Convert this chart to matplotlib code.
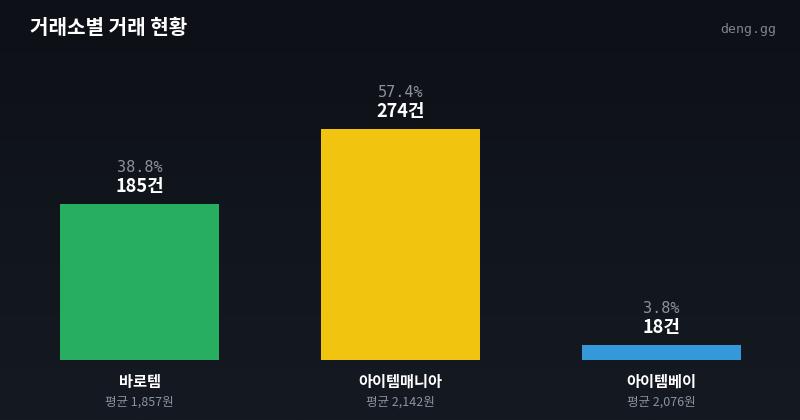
import matplotlib.pyplot as plt
import numpy as np
from matplotlib.colors import LinearSegmentedColormap

exchanges = ["바로템", "아이템매니아", "아이템베이"]
counts = [185, 274, 18]
shares = [38.8, 57.4, 3.8]
avg_prices = [1857, 2142, 2076]
colors = ["#27ae60", "#f1c40f", "#3498db"]

plt.rcParams['font.family'] = ['Noto Sans CJK KR', 'DejaVu Sans']

fig = plt.figure(figsize=(8, 4.2), dpi=100)

# background gradient
bg = fig.add_axes([0, 0, 1, 1])
grad = np.linspace(0, 1, 256).reshape(-1, 1)
cmap = LinearSegmentedColormap.from_list("bg", ["#0d1016", "#151a22"])
bg.imshow(grad, aspect="auto", cmap=cmap, extent=[0, 1, 0, 1], origin="upper")
bg.axis("off")

W, H = 800, 420
ax = fig.add_axes([60 / W, 1 - 360 / H, 681 / W, 300 / H])
ax.set_facecolor("none")
x = np.arange(len(exchanges))
ax.bar(x, counts, width=0.609, color=colors)
ax.set_xlim(-0.3046, 2.3046)
ax.set_ylim(0, 274 * 300 / 231)
ax.axis("off")

for i in range(len(exchanges)):
    ax.annotate(f"{counts[i]}건", (x[i], counts[i]), xytext=(0, 12.5),
                textcoords="offset points", ha="center", va="center",
                color="white", fontsize=13, fontweight="bold")
    ax.annotate(f"{shares[i]}%", (x[i], counts[i]), xytext=(0, 26.5),
                textcoords="offset points", ha="center", va="center",
                color="#8b929c", fontsize=11, family="DejaVu Sans Mono")
    ax.annotate(exchanges[i], (x[i], 0), xytext=(0, -15.5),
                textcoords="offset points", ha="center", va="center",
                color="white", fontsize=11, fontweight="bold")
    ax.annotate(f"평균 {avg_prices[i]:,}원", (x[i], 0), xytext=(0, -30.5),
                textcoords="offset points", ha="center", va="center",
                color="#8b929c", fontsize=9)

fig.text(30 / W, 1 - 27 / H, "거래소별 거래 현황", color="white", fontsize=14.5,
         fontweight="bold", ha="left", va="center")
fig.text(776 / W, 1 - 30 / H, "deng.gg", color="#7d848e", fontsize=9.5,
         family="DejaVu Sans Mono", ha="right", va="center")

fig.savefig("out.png", dpi=100)
